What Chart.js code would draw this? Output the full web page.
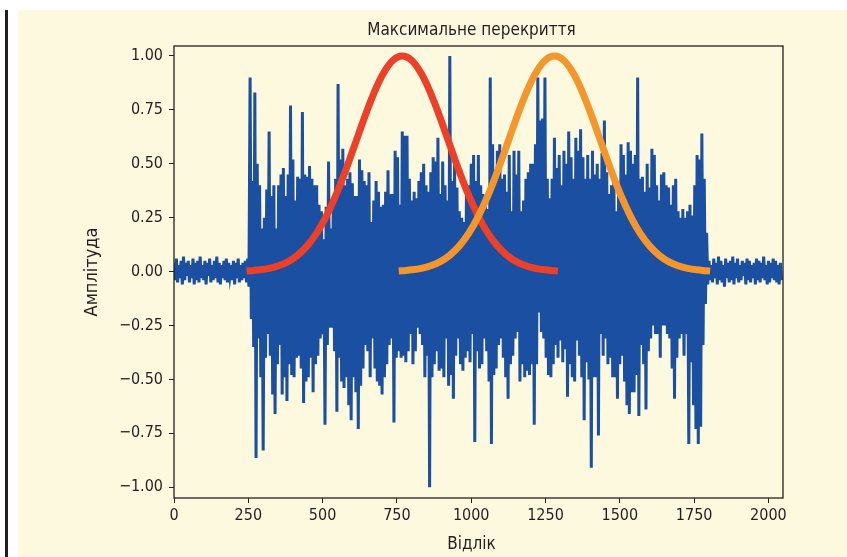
<!DOCTYPE html>
<html>
<head>
<meta charset="utf-8">
<script src="https://cdn.jsdelivr.net/npm/chart.js@4.4.1/dist/chart.umd.min.js"></script>
<style>
  body { margin: 0; background: #fff; }
  #page { position: relative; width: 847px; height: 557px; overflow: hidden; }
  #bar { position: absolute; left: 5px; top: 10px; width: 3px; height: 547px; background: #231f20; }
  #panel { position: absolute; left: 18px; top: 10px; width: 829px; height: 547px; background: #fdf9df; }
  #wrap { position: absolute; left: 0; top: 0; width: 847px; height: 557px; }
</style>
</head>
<body>
<div id="page">
  <div id="bar"></div>
  <div id="panel"></div>
  <div id="wrap"><canvas id="chart"></canvas></div>
</div>
<script>
// signal: upper peak at sample 8j, lower peak at sample 8j+4
const sampleStep = 4;
const upperPeaks = [
  0.04,0.06,0.03,0.05,0.07,0.04,0.05,0.03,0.06,0.04,0.05,0.07,0.03,0.05,0.04,0.06,
  0.03,0.05,0.07,0.04,0.03,0.05,0.06,0.04,0.03,0.05,0.04,0.06,0.03,0.04,0.05,0.06,
  0.90,0.42,0.83,0.50,0.40,0.20,0.25,0.38,0.65,0.35,
  0.40,0.20,0.40,0.45,0.48,0.35,0.45,0.77,0.52,0.33,
  0.44,0.43,0.74,0.45,0.44,0.49,0.43,0.40,0.40,0.31,
  0.28,0.15,0.30,0.51,0.20,0.33,0.43,0.87,0.52,0.57,
  0.40,0.43,0.46,0.41,0.35,0.35,0.52,0.47,0.42,0.40,
  0.46,0.23,0.33,0.42,0.37,0.30,0.31,0.37,0.47,0.36,
  0.36,0.56,0.53,0.31,0.65,0.63,0.63,0.43,0.33,0.37,
  0.34,0.42,0.46,0.50,0.40,0.37,0.46,0.53,0.51,0.62,
  0.36,0.51,0.40,0.33,1.00,0.42,0.50,0.39,0.28,0.25,
  0.23,0.37,0.40,0.50,0.54,0.42,0.54,0.40,0.36,0.30,
  0.29,0.90,0.59,0.40,0.56,0.59,0.43,0.45,0.37,0.54,
  0.28,0.56,0.45,0.56,0.28,0.33,0.43,0.46,0.50,0.50,
  0.59,0.90,0.70,0.71,0.90,0.43,0.34,0.43,0.62,0.48,
  0.54,0.40,0.56,0.50,0.65,0.53,0.43,0.62,0.56,0.66,
  0.53,0.43,0.54,0.43,0.56,0.45,0.50,0.43,0.55,0.70,
  0.46,0.36,0.40,0.43,0.28,0.40,0.59,0.54,0.45,0.60,
  0.56,0.50,0.54,0.90,0.43,0.44,0.37,0.50,0.39,0.57,
  0.54,0.40,0.33,0.45,0.46,0.40,0.39,0.31,0.40,0.43,
  0.28,0.25,0.29,0.25,0.28,0.31,0.26,0.40,0.54,0.52,
  0.64,0.43,0.18,
  0.05,0.03,0.06,0.04,0.07,0.05,0.03,0.06,0.04,0.05,0.07,0.04,0.06,0.03,0.05,0.04,
  0.06,0.05,0.03,0.04,0.06,0.05,0.04,0.07,0.03,0.05,0.04,0.06,0.05,0.03,0.04
];
const lowerPeaks = [
  -0.04,-0.05,-0.03,-0.06,-0.04,-0.02,-0.05,-0.03,-0.06,-0.04,-0.05,-0.03,-0.04,-0.06,-0.02,-0.05,
  -0.04,-0.03,-0.05,-0.06,-0.03,-0.04,-0.05,-0.02,-0.04,-0.06,-0.03,-0.05,-0.04,-0.03,-0.05,-0.07,
  -0.22,-0.35,-0.865,-0.31,-0.49,-0.83,-0.40,-0.29,-0.39,-0.57,
  -0.66,-0.43,-0.34,-0.57,-0.49,-0.60,-0.43,-0.48,-0.49,-0.40,
  -0.39,-0.45,-0.61,-0.51,-0.49,-0.40,-0.56,-0.43,-0.39,-0.31,
  -0.29,-0.71,-0.34,-0.26,-0.26,-0.37,-0.65,-0.40,-0.51,-0.54,
  -0.49,-0.62,-0.69,-0.49,-0.56,-0.73,-0.53,-0.45,-0.34,-0.37,
  -0.49,-0.31,-0.45,-0.51,-0.53,-0.57,-0.49,-0.43,-0.34,-0.31,
  -0.70,-0.40,-0.37,-0.40,-0.39,-0.42,-0.37,-0.29,-0.43,-0.37,
  -0.26,-0.29,-0.34,-0.49,-0.39,-1.00,-0.49,-0.43,-0.37,-0.46,
  -0.45,-0.49,-0.31,-0.53,-0.48,-0.59,-0.39,-0.31,-0.43,-0.46,
  -0.40,-0.37,-0.42,-0.29,-0.79,-0.37,-0.45,-0.43,-0.31,-0.37,
  -0.51,-0.80,-0.48,-0.45,-0.34,-0.31,-0.40,-0.49,-0.59,-0.43,
  -0.39,-0.31,-0.28,-0.51,-0.43,-0.49,-0.46,-0.48,-0.43,-0.71,
  -0.43,-0.19,-0.28,-0.31,-0.40,-0.48,-0.49,-0.43,-0.34,-0.40,
  -0.32,-0.42,-0.36,-0.58,-0.43,-0.49,-0.51,-0.32,-0.39,-0.49,
  -0.69,-0.42,-0.50,-0.91,-0.49,-0.49,-0.76,-0.29,-0.39,-0.31,
  -0.43,-0.40,-0.49,-0.49,-0.59,-0.43,-0.39,-0.51,-0.62,-0.66,
  -0.56,-0.56,-0.48,-0.67,-0.34,-0.43,-0.64,-0.37,-0.31,-0.25,
  -0.29,-0.29,-0.40,-0.25,-0.25,-0.29,-0.31,-0.45,-0.59,-0.40,
  -0.31,-0.29,-0.39,-0.29,-0.80,-0.42,-0.62,-0.73,-0.80,-0.72,
  -0.34,-0.15,
  -0.06,-0.04,-0.05,-0.03,-0.06,-0.04,-0.05,-0.07,-0.03,-0.05,-0.04,-0.06,-0.03,-0.05,-0.04,-0.02,
  -0.06,-0.04,-0.05,-0.03,-0.06,-0.04,-0.05,-0.03,-0.04,-0.06,-0.05,-0.03,-0.04,-0.05,-0.06,-0.04
];

// windows, one value every 32 samples
const windowStep = 32;
const redStart = 256;
const orangeStart = 768;
const redWindow = [0.004,0.008,0.015,0.027,0.046,0.076,0.119,0.178,0.256,0.352,0.464,0.587,0.711,0.825,0.918,0.979,1.0,
                   0.979,0.918,0.825,0.711,0.587,0.464,0.352,0.256,0.178,0.119,0.076,0.046,0.027,0.015,0.008,0.004];
const orangeWindow = [0.004,0.008,0.015,0.027,0.046,0.076,0.119,0.178,0.256,0.352,0.464,0.587,0.711,0.825,0.918,0.979,1.0,
                      0.979,0.918,0.825,0.711,0.587,0.464,0.352,0.256,0.178,0.119,0.076,0.046,0.027,0.015,0.008,0.004];

const xTicks = [0, 250, 500, 750, 1000, 1250, 1500, 1750, 2000];
const yTicks = [-1.0, -0.75, -0.5, -0.25, 0.0, 0.25, 0.5, 0.75, 1.0];
const chartTitle = 'Максимальне перекриття';
const xTitle = 'Відлік';
const yTitle = 'Амплітуда';

const FONT = "'Liberation Sans Narrow', 'DejaVu Sans Condensed', 'Liberation Sans', sans-serif";

const signal = [];
for (let j = 0; j < upperPeaks.length; j++) {
  signal.push({x: j * sampleStep * 2, y: upperPeaks[j]});
  signal.push({x: j * sampleStep * 2 + sampleStep, y: lowerPeaks[j]});
}
const redPts = redWindow.map((v, i) => ({x: redStart + i * windowStep, y: v}));
const orangePts = orangeWindow.map((v, i) => ({x: orangeStart + i * windowStep, y: v}));

const framePlugin = {
  id: 'frame',
  afterDraw(chart) {
    const {ctx, chartArea: a} = chart;
    ctx.save();
    ctx.strokeStyle = '#231f20';
    ctx.lineWidth = 1.3;
    ctx.strokeRect(a.left, a.top, a.right - a.left, a.bottom - a.top);
    ctx.fillStyle = '#231f20';
    ctx.textAlign = 'center';
    ctx.textBaseline = 'alphabetic';
    ctx.font = '17px ' + FONT;
    ctx.fillText(chartTitle, 471.5, 35);
    ctx.fillText(xTitle, 471.5, 549);
    ctx.restore();
  }
};

new Chart(document.getElementById('chart'), {
  type: 'line',
  data: {
    datasets: [
      {data: orangePts, borderColor: '#f5962c', borderWidth: 7, pointRadius: 0,
       tension: 0.4, borderCapStyle: 'square', order: 1},
      {data: redPts, borderColor: '#ec4128', borderWidth: 7, pointRadius: 0,
       tension: 0.4, borderCapStyle: 'square', order: 2},
      {data: signal, borderColor: '#1a4fa1', borderWidth: 3, pointRadius: 0,
       tension: 0, order: 3}
    ]
  },
  options: {
    responsive: true,
    maintainAspectRatio: false,
    animation: false,
    events: [],
    layout: {padding: {top: 46, right: 64, bottom: 0, left: 0}},
    plugins: {legend: {display: false}, tooltip: {enabled: false}},
    scales: {
      x: {
        type: 'linear', min: 0, max: 2049,
        afterBuildTicks: s => { s.ticks = xTicks.map(v => ({value: v})); },
        afterFit: s => { s.height = 59; },
        grid: {drawOnChartArea: false, drawTicks: true, tickLength: 5, color: '#231f20'},
        border: {display: false},
        ticks: {color: '#231f20', padding: 3, maxRotation: 0, font: {family: FONT, size: 16},
                callback: v => String(v)}
      },
      y: {
        type: 'linear', min: -1.05, max: 1.046,
        afterBuildTicks: s => { s.ticks = yTicks.map(v => ({value: v})); },
        afterFit: s => { s.width = 174; },
        grid: {drawOnChartArea: false, drawTicks: true, tickLength: 5, color: '#231f20'},
        border: {display: false},
        ticks: {color: '#231f20', padding: 6, font: {family: FONT, size: 16},
                callback: v => v.toFixed(2).replace('-', '\u2212')},
        title: {display: true, text: yTitle, color: '#231f20', padding: {top: 82, bottom: 0},
                font: {family: FONT, size: 18}}
      }
    }
  },
  plugins: [framePlugin]
});
</script>
</body>
</html>
